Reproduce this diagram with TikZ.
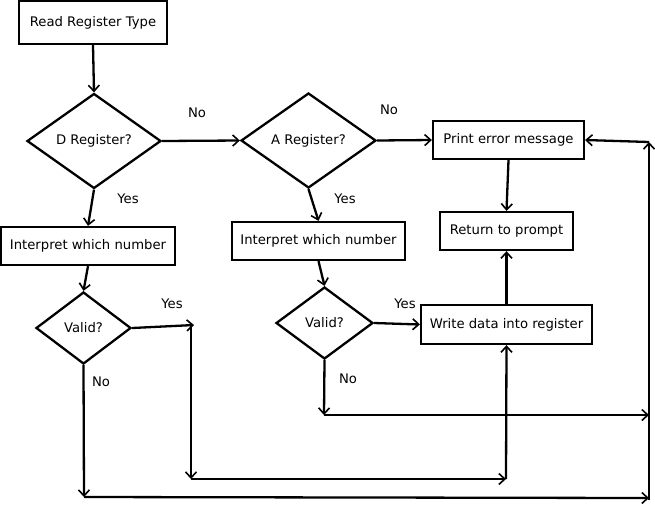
\documentclass[tikz,border=0pt]{standalone}
\usepackage{fontspec}
\setmainfont{DejaVu Sans}
\usetikzlibrary{shapes.geometric,arrows.meta}
\begin{document}
\begin{tikzpicture}[x=1pt,y=-1pt,
  every node/.style={font=\fontsize{13.2}{15}\selectfont},
  box/.style={draw,line width=2.3pt,inner sep=0pt},
  dia/.style={draw,diamond,line width=2.3pt,inner sep=0pt},
  lbl/.style={inner sep=0pt},
  conn/.style={line width=2.3pt,-{Straight Barb[length=6pt,width=11pt,line width=1.6pt]}}]
\useasboundingbox (0,0) rectangle (655,507);
% boxes
\node[box,minimum width=148pt,minimum height=43pt] (read) at (93,22.5) {Read Register Type};
\node[dia,minimum width=134pt,minimum height=95pt,aspect=1.41] (dd) at (94,141) {D Register?};
\node[dia,minimum width=135pt,minimum height=95pt,aspect=1.42] (ad) at (308.5,140.5) {A Register?};
\node[box,minimum width=151pt,minimum height=38pt] (err) at (508.5,140) {Print error message};
\node[box,minimum width=133pt,minimum height=38pt] (ret) at (506.5,231) {Return to prompt};
\node[box,minimum width=174pt,minimum height=38pt] (dint) at (88,246) {Interpret which number};
\node[box,minimum width=173pt,minimum height=38pt] (aint) at (318.5,241) {Interpret which number};
\node[dia,minimum width=95pt,minimum height=72pt,aspect=1.32] (dv) at (83.5,328) {Valid?};
\node[dia,minimum width=97pt,minimum height=72pt,aspect=1.35] (av) at (324.5,323) {Valid?};
\node[box,minimum width=171pt,minimum height=39pt] (wr) at (506.5,324.5) {Write data into register};
% coordinates
\coordinate (y1) at (194,325);
\coordinate (y1b) at (191,325);
\coordinate (y2) at (191,479);
\coordinate (y3) at (506,479);
\coordinate (n1) at (84,497);
\coordinate (n2) at (649,498);
\coordinate (m1) at (324,415);
\coordinate (m2) at (649,415);
\coordinate (r1) at (649,500);
\coordinate (r2) at (649,142);
% connectors
\draw[conn] (read.south) -- (dd.north);
\draw[conn] (dd.east) -- (ad.west);
\draw[conn] (ad.east) -- (err.west);
\draw[conn] (err.south) -- (ret.north);
\draw[conn] (dd.south) -- (dint.north);
\draw[conn] (ad.south) -- (aint.north);
\draw[conn] (dint.south) -- (dv.north);
\draw[conn] (aint.south) -- (av.north);
\draw[conn] (av.east) -- (wr.west);
\draw[conn] (wr.north) -- (ret.south);
\draw[conn] (dv.east) -- (y1);
\draw[conn] (y1b) -- (y2);
\draw[conn] (y2) -- (y3);
\draw[conn] (y3) -- (wr.south);
\draw[conn] (dv.south) -- (n1);
\draw[conn] (n1) -- (n2);
\draw[conn] (av.south) -- (m1);
\draw[conn] (m1) -- (m2);
\draw[conn] (r1) -- (r2);
\draw[conn] (r2) -- (err.east);
% labels
\node[lbl] (l1) at (197,113) {No};
\node[lbl] (l2) at (389,110) {No};
\node[lbl] (l3) at (128,199) {Yes};
\node[lbl] (l4) at (345,199) {Yes};
\node[lbl] (l5) at (172,304) {Yes};
\node[lbl] (l6) at (101,382) {No};
\node[lbl] (l7) at (405,304) {Yes};
\node[lbl] (l8) at (348,379) {No};
\end{tikzpicture}
\end{document}
